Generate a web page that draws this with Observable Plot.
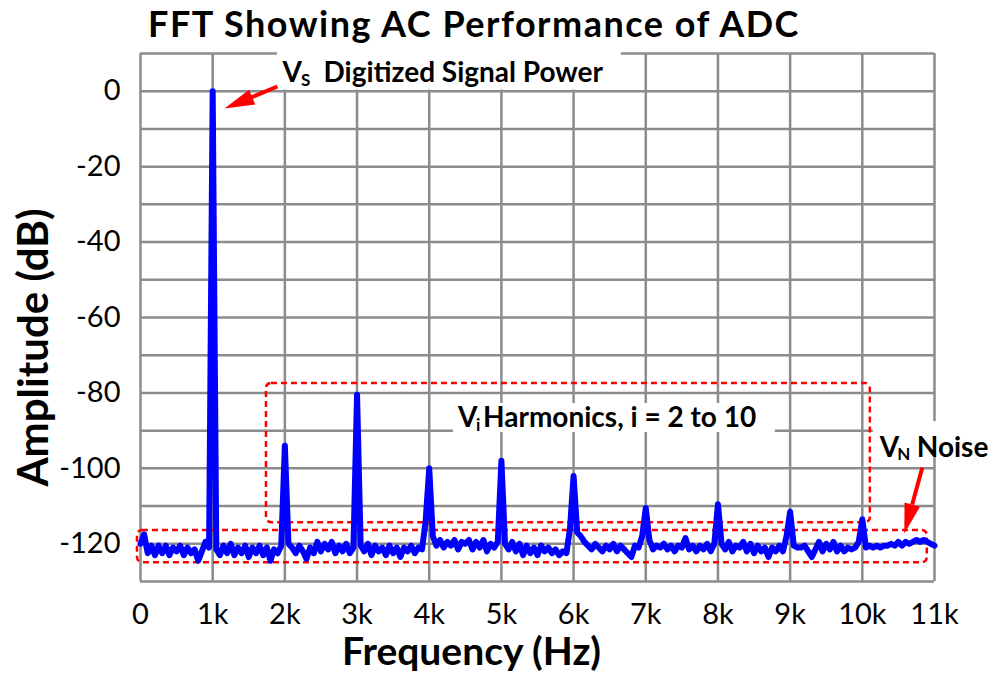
<!DOCTYPE html>
<html><head><meta charset="utf-8">
<script src="https://cdn.jsdelivr.net/npm/d3@7"></script>
<script src="https://cdn.jsdelivr.net/npm/@observablehq/plot@0.6"></script>
<style>
body{margin:0;background:#fff;}
#title{width:948px;height:45px;text-align:center;font-family:Lato,sans-serif;font-weight:bold;font-size:36px;letter-spacing:1.5px;line-height:45px;padding-top:1px;box-sizing:border-box;color:#000;white-space:nowrap;}
</style></head><body>
<div id="title">FFT Showing AC Performance of ADC</div>
<div id="chart"></div>
<script>
// FFT bin spacing (Hz) and amplitude per bin (dB)
const binHz = 50;
const amplitudeDb = [
  -120, -117.5, -122.5, -120.5, -123, -120.5, -122.5, -120.5, -123, -121, -122, -120.5, -123, -121, -122.5, -121.5, -124.5, -122, -119.5, -121,
  0, -121.5, -123, -120.5, -122.5, -120, -123, -121, -122.5, -120.5, -123.5, -121, -122.5, -120.5, -123, -121, -124.5, -121.5, -122.5, -120.5,
  -94, -120, -121, -122.5, -120.5, -122, -124, -121, -122.5, -119.5, -122, -120, -121.5, -119.5, -122.5, -120.5, -122, -120, -122.5, -121,
  -80.5, -120.5, -122, -120, -123, -120.5, -122, -121, -123, -120.5, -122.5, -121, -123.5, -121, -122, -120.5, -122.5, -121, -121.5, -114,
  -100, -118, -120.5, -119, -121, -119.5, -120.5, -119, -121.5, -119.5, -120, -119, -121.5, -119.5, -121, -119, -122, -120, -121, -119.5,
  -98, -120, -121.5, -119.5, -122, -120, -123, -120.5, -122.5, -121, -123, -120.5, -122, -121, -122.5, -121.5, -123, -122, -122.5, -116,
  -102, -117, -118, -119.5, -120.5, -121.5, -120, -121, -122, -120.5, -121.5, -120, -122, -120.5, -121.5, -122.5, -123.5, -120.5, -121, -118,
  -110.5, -119, -121.5, -120.5, -121, -120, -121.5, -120.5, -122, -120.5, -121, -118.5, -121.5, -120.5, -122, -120.5, -121.5, -120, -122, -120,
  -109.5, -120, -121.5, -119.5, -122, -120.5, -121, -119.5, -122, -120, -122.5, -120.5, -122, -121, -123.5, -121, -122, -120.5, -122, -118,
  -111.5, -120.5, -121, -121, -120.5, -122, -123.5, -121.5, -119.5, -122, -120, -121.5, -119.5, -122, -120.5, -122, -121, -121.5, -121, -119.5,
  -113.5, -121, -120.5, -121, -120.5, -121, -120.5, -120.5, -120, -120.5, -119.5, -120.5, -119.5, -120, -119.5, -119, -119.5, -119, -119.5, -120, -120.5
];
const xTicks = [0, 1000, 2000, 3000, 4000, 5000, 6000, 7000, 8000, 9000, 10000, 11000];
const xTickLabels = ["0", "1k", "2k", "3k", "4k", "5k", "6k", "7k", "8k", "9k", "10k", "11k"];
const yTicks = [-120, -100, -80, -60, -40, -20, 0];
const yGrid = [-130, -120, -110, -100, -90, -80, -70, -60, -50, -40, -30, -20, -10, 0, 10];

// annotation boxes (Hz, dB)
const dashedBoxes = [
  {x1: 1745, x2: 10111, y1: -77.5, y2: -114.4},
  {x1: -42, x2: 10900, y1: -116.5, y2: -125}
];
const labelBoxes = [
  {x1: 1897, x2: 6662, y1: 0.3, y2: 10.4},
  {x1: 4335, x2: 8795, y1: -82.8, y2: -90.5},
  {x1: 10152, x2: 11800, y1: -87.6, y2: -95.2}
];
const arrows = [
  {tailHz: 1897, tailDb: 1.25, baseHz: 1521, baseDb: -1.75, tipHz: 1163, tipDb: -4.6, angle: 247.5},
  {tailHz: 10831, tailDb: -99.8, baseHz: 10691, baseDb: -109.6, tipHz: 10582, tipDb: -117.3, angle: 195.3}
];
const labels = [
  {hz: 1967, db: 4.7, main: "V", sub: "S", rest: "Digitized Signal Power", subDx: 18.5, restDx: 41},
  {hz: 4399, db: -86.7, main: "V", sub: "i", rest: "Harmonics, i = 2 to 10", subDx: 18, restDx: 25},
  {hz: 10242, db: -94.5, main: "V", sub: "N", rest: "Noise", subDx: 17.5, restDx: 37}
];

const spectrum = amplitudeDb.map((db, i) => ({freq: i * binHz, db}));

const labelMarks = labels.flatMap(l => [
  Plot.text([l], {x: "hz", y: "db", text: "main", textAnchor: "start", fontSize: 28, fontWeight: "bold", fill: "black"}),
  Plot.text([l], {x: "hz", y: "db", text: "sub", textAnchor: "start", fontSize: 17, fontWeight: "bold", fill: "black", dx: l.subDx, dy: 7}),
  Plot.text([l], {x: "hz", y: "db", text: "rest", textAnchor: "start", fontSize: 28, fontWeight: "bold", fill: "black", dx: l.restDx})
]);

const chart = Plot.plot({
  width: 991,
  height: 630,
  marginTop: 8,
  marginBottom: 94,
  marginLeft: 140,
  marginRight: 57,
  x: {domain: [0, 11000]},
  y: {domain: [-130, 10]},
  style: {fontFamily: "Lato, sans-serif", background: "white", color: "black", overflow: "visible"},
  marks: [
    Plot.ruleX(xTicks, {stroke: "#8c8c8c", strokeWidth: 2.5}),
    Plot.ruleY(yGrid, {stroke: "#8c8c8c", strokeWidth: 2.5}),
    Plot.rect(dashedBoxes, {x1: "x1", x2: "x2", y1: "y1", y2: "y2", fill: "none", stroke: "#ff0000", strokeWidth: 2.5, strokeDasharray: "6,4", rx: 5}),
    Plot.line(spectrum, {x: "freq", y: "db", stroke: "#0000ff", strokeWidth: 6, strokeLinejoin: "round", strokeLinecap: "round"}),
    Plot.rect(labelBoxes, {x1: "x1", x2: "x2", y1: "y1", y2: "y2", fill: "white"}),
    Plot.link(arrows, {x1: "tailHz", y1: "tailDb", x2: "baseHz", y2: "baseDb", stroke: "#ff0000", strokeWidth: 4}),
    Plot.vector(arrows, {x: "tipHz", y: "tipDb", rotate: "angle", length: 30, shape: "spike", r: 8, anchor: "end", fill: "#ff0000", stroke: "none"}),
    ...labelMarks,
    Plot.axisX(xTicks, {tickFormat: d => xTickLabels[xTicks.indexOf(d)], tickSize: 0, tickPadding: 22, fontSize: 29, label: null}),
    Plot.axisY(yTicks, {tickFormat: d => String(d), tickSize: 0, tickPadding: 20, fontSize: 29, label: null}),
    Plot.text(["Frequency (Hz)"], {text: d => d, frameAnchor: "bottom", textAnchor: "middle", lineAnchor: "middle", dx: -66, dy: 71, fontSize: 39, fontWeight: "bold", fill: "black"}),
    Plot.text(["Amplitude (dB)"], {text: d => d, frameAnchor: "left", textAnchor: "middle", lineAnchor: "middle", dx: -106, dy: 30, rotate: -90, fontSize: 42, fontWeight: "bold", fill: "black"})
  ]
});
document.getElementById("chart").appendChild(chart);
</script>
</body></html>
